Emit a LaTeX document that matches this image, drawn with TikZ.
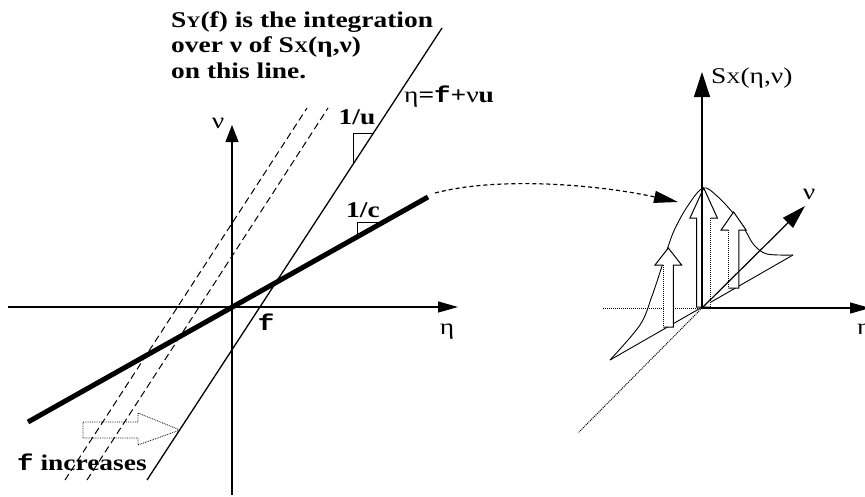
\documentclass[tikz,border=0pt]{standalone}
\usepackage{fontspec}
\setmainfont{Liberation Serif}[FakeStretch=1.22]
\setmonofont{Liberation Mono}[FakeStretch=1.22]
\usetikzlibrary{arrows.meta, positioning}

\newcommand{\subcap}[1]{{\fontsize{16}{16}\selectfont #1}}

\begin{document}
\begin{tikzpicture}[x=1pt, y=-1pt,
        axis/.style={draw, line width=1.2pt, -{Triangle[length=20pt, width=11pt]}},
        bigaxis/.style={draw, line width=1.2pt, -{Triangle[length=25pt, width=16pt]}},
        label/.style={font=\fontsize{22.5}{25.5}\selectfont, inner sep=0pt},
        boldlabel/.style={font=\bfseries\fontsize{22.5}{25.5}\selectfont, inner sep=0pt},
        sweep/.style={draw, line width=1pt, dash pattern=on 7pt off 4pt},
        bar/.style={draw, line width=1pt}]

        \useasboundingbox (0,0) rectangle (865,496);

        % left plane
        \coordinate (o1) at (232,307);
        \draw[axis] (8,307) -- (458,307);
        \draw[axis, -{Triangle[length=17pt, width=13pt]}] (232,495) -- (232,125);
        \node[label] (eta1) at (447,332) {η};
        \node[label] (nu1) at (218,123) {ν};
        \node[boldlabel] (f0) at (266,322) {\ttfamily f};

        \draw[line width=5pt] (28,422) -- (428,197);
        \draw[line width=1.3pt] (147,480) -- (442,28);
        \draw[sweep] (65,480) -- (307,108);
        \draw[sweep] (87,480) -- (328,108);

        % slope marks
        \draw[line width=0.8pt] (353,164) -- (353,133) -- (374,133);
        \draw[line width=0.8pt] (357,236) -- (357,222) -- (382,222);
        \node[boldlabel] (slope u) at (357,117) {1/u};
        \node[boldlabel] (slope c) at (363,210) {1/c};
        \node[label, anchor=west] (line eq) at (404,97) {η\textbf{=\texttt{f}+}ν\textbf{u}};

        \node[boldlabel, anchor=north west, align=left] (note) at (171,11) {S\subcap{Y}(f) is the integration\\over ν of S\subcap{X}(η,ν)\\on this line.};

        % f increases
        \draw[densely dotted, line width=0.8pt] (83,422) -- (138,422) -- (138,413) -- (180,430) -- (138,445) -- (138,438) -- (83,438) -- cycle;
        \node[boldlabel, anchor=base west] (incr) at (17,470) {\texttt{f} increases};

        % right plot
        \coordinate (o2) at (702,308);
        \coordinate (link start) at (435,193);
        \coordinate (link end) at (678,202);
        \draw[line width=1.2pt, dash pattern=on 4pt off 3pt, -{Triangle[length=24pt, width=12pt]}] (link start) .. controls (500,176) and (600,185) .. (link end);

        \draw[densely dotted, line width=1pt] (603,308) -- (o2);
        \draw[densely dotted, line width=1pt] (o2) -- (578,433);
        \draw[line width=0.9pt] (610,360) -- (793,255);
        \draw[line width=0.9pt] plot[smooth, tension=0.55] coordinates {(610,360) (640,325) (652,296) (663,263) (673,233) (687,207) (703,188) (717,196) (733,213) (745,230) (754,245) (767,254) (793,255)};

        \foreach \cx/\b/\t/\hb/\s/\w/\d in {668.3/327/248/265/5/13.3/-1, 703.7/307/188/218/7/13.7/1, 733.6/288/212/230/5.3/12.5/-1} {
            \fill[white] ({\cx-\s},\b) -- ({\cx-\s},\hb) -- ({\cx-\w},\hb) -- (\cx,\t) -- ({\cx+\w},\hb) -- ({\cx+\s},\hb) -- ({\cx+\s},\b) -- cycle;
            \draw[bar] ({\cx+(\d)*\s},\b) -- ({\cx-(\d)*\s},\b) -- ({\cx-(\d)*\s},\hb) -- ({\cx-(\d)*\w},\hb) -- (\cx,\t) -- ({\cx+(\d)*\w},\hb) -- ({\cx+(\d)*\s},\hb);
            \draw[bar, densely dotted] ({\cx+(\d)*\s},\hb) -- ({\cx+(\d)*\s},\b);
        }

        \draw[bigaxis] (o2) -- (702,72);
        \draw[axis] (o2) -- (870,308);
        \draw[axis, -{Triangle[length=24pt, width=14pt]}] (o2) -- (805,206);
        \node[label, anchor=west] (sx) at (711,78) {S\subcap{X}(η,ν)};
        \node[label] (nu2) at (809,194) {ν};
        \node[label, anchor=west] (eta2) at (857,332) {η};
    \end{tikzpicture}
\end{document}
